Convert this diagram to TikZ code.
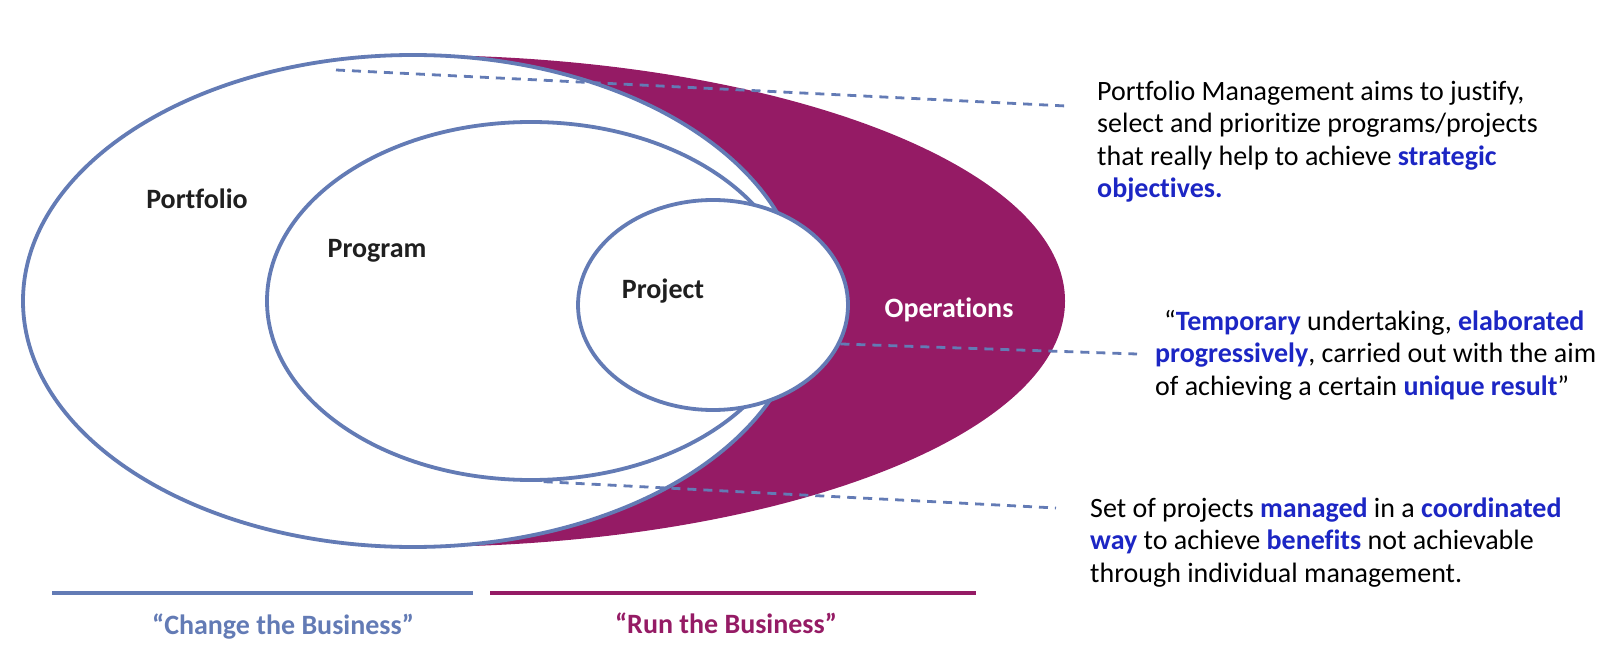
\documentclass[tikz,border=0pt]{standalone}
\usepackage{fontspec}
\setmainfont{Carlito}[Ligatures=NoCommon]
\usepackage{xcolor}
\usetikzlibrary{positioning}
\usetikzlibrary{shapes.geometric}
\definecolor{ringblue}{RGB}{99,123,181}
\definecolor{opspurple}{RGB}{149,27,101}
\definecolor{keyblue}{RGB}{28,38,196}
\newcommand{\keyword}[1]{\textcolor{keyblue}{\textbf{#1}}}

\begin{document}
\begin{tikzpicture}[x=1pt, y=-1pt,
                    ringnode/.style={ellipse, draw=ringblue, line width=3.8pt, fill=white, inner sep=0pt},
                    labelnode/.style={font=\fontsize{28}{32.5}\selectfont\bfseries, text=black!88},
                    notenode/.style={font=\fontsize{28}{32.5}\selectfont, align=left, anchor=base west, inner sep=0pt},
                    leader/.style={ringblue, line width=2.8pt, dash pattern=on 9pt off 7pt}
                   ]
\useasboundingbox (0,0) rectangle (1620,668);
%Operations
\fill[opspurple] (413,55) arc[start angle=90, end angle=-90, x radius=652pt, y radius=246pt] -- cycle;
%Nodes
\node[ringnode, minimum width=780pt, minimum height=492pt] (portfolio) at (413,301) {};
\node[ringnode, minimum width=528pt, minimum height=358pt] (program)   at (531,301) {};
\node[ringnode, minimum width=270pt, minimum height=210pt] (project)   at (713,305) {};

\node[labelnode] (portfoliolabel) at (197,199) {Portfolio};
\node[labelnode] (programlabel)   at (377,251) {Program};
\node[labelnode] (projectlabel)   at (663,291) {Project};
\node[labelnode, text=white] (operationslabel) at (949,310) {Operations};

\node[notenode] (portfolionote) at (1097,198) {Portfolio Management aims to justify,\\select and prioritize programs/projects\\that really help to achieve \keyword{strategic}\\\keyword{objectives.}};
\node[notenode] (projectnote)   at (1155,395) {\hspace*{9pt}“\keyword{Temporary} undertaking, \keyword{elaborated}\\\keyword{progressively}, carried out with the aim\\of achieving a certain \keyword{unique result}”};
\node[notenode] (programnote)   at (1090,582) {Set of projects \keyword{managed} in a \keyword{coordinated}\\\keyword{way} to achieve \keyword{benefits} not achievable\\through individual management.};

% %Lines
\coordinate (portfoliotip) at (336,70);
\coordinate (portfolioend) at (1066,106);
\coordinate (projectend)   at (1137,354);
\coordinate (programend)   at (1056,508);
\draw[leader] (portfoliotip)  -- (portfolioend);
\draw[leader] (project.-17)   -- (projectend);
\draw[leader] (program.-86)   -- (programend);

%Business
\draw[ringblue, line width=4pt]  (52,593) -- (473,593);
\draw[opspurple, line width=4pt] (490,593) -- (976,593);
\node[labelnode, text=ringblue, anchor=base]  (changelabel) at (283,634) {“Change the Business”};
\node[labelnode, text=opspurple, anchor=base] (runlabel)    at (726,633) {“Run the Business”};
\end{tikzpicture}
\end{document}
